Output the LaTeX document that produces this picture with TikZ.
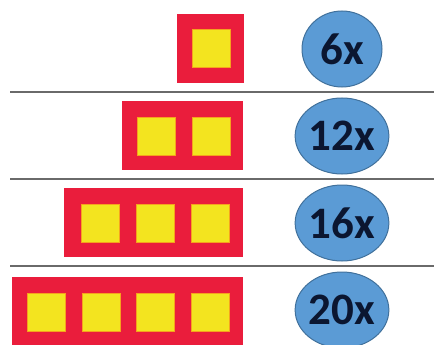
\documentclass[tikz,border=0pt]{standalone}
\usepackage{fontspec}
\setmainfont{Carlito}
\usetikzlibrary{shapes.geometric}
\definecolor{redbg}{HTML}{EA1D3C}
\definecolor{yel}{HTML}{F3E41F}
\definecolor{yedge}{HTML}{F6A21E}
\definecolor{bluefill}{HTML}{5B9BD5}
\definecolor{blueedge}{HTML}{41719C}
\definecolor{txt}{HTML}{0B1630}
\definecolor{rule}{HTML}{6A6A6A}
\tikzset{
  redbox/.style={fill=redbg, draw=none, inner sep=0pt, minimum height=69pt, anchor=north west},
  yelbox/.style={fill=yel, draw=yedge, line width=0.8pt, inner sep=0pt, minimum width=38pt, minimum height=38pt, anchor=north west},
  factor/.style={ellipse, fill=bluefill, draw=blueedge, line width=1pt, inner sep=0pt, minimum width=80pt, minimum height=76pt, text=txt, font=\fontsize{45}{45}\selectfont\bfseries},
  sep/.style={draw=rule, line width=1.4pt}
}
\begin{document}
\begin{tikzpicture}[x=1pt,y=-1pt]
\useasboundingbox (0,0) rectangle (434,345);
% row 1
\node[redbox, minimum width=67pt] (r1) at (177,14) {};
\node[yelbox] (y11) at (191.5,29.5) {};
\node[factor] (c1) at (342,49) {6x};
% row 2
\node[redbox, minimum width=121pt] (r2) at (122,101) {};
\node[yelbox] (y21) at (136.5,116.5) {};
\node[yelbox] (y22) at (191.5,116.5) {};
\node[factor] (c2) at (342,136) {12x};
% row 3
\node[redbox, minimum width=179pt] (r3) at (64,188) {};
\node[yelbox] (y31) at (80.5,203.5) {};
\node[yelbox] (y32) at (135.5,203.5) {};
\node[yelbox] (y33) at (190.5,203.5) {};
\node[factor] (c3) at (342,223) {16x};
% row 4
\node[redbox, minimum width=231pt] (r4) at (12,277) {};
\node[yelbox] (y41) at (26.5,292.5) {};
\node[yelbox] (y42) at (81.5,292.5) {};
\node[yelbox] (y43) at (135.5,292.5) {};
\node[yelbox] (y44) at (190.5,292.5) {};
\node[factor] (c4) at (342,310) {20x};
% separators
\coordinate (a1) at (10,92);  \coordinate (b1) at (434,92);
\coordinate (a2) at (10,179); \coordinate (b2) at (434,179);
\coordinate (a3) at (10,266); \coordinate (b3) at (434,266);
\draw[sep] (a1) -- (b1);
\draw[sep] (a2) -- (b2);
\draw[sep] (a3) -- (b3);
\end{tikzpicture}
\end{document}
